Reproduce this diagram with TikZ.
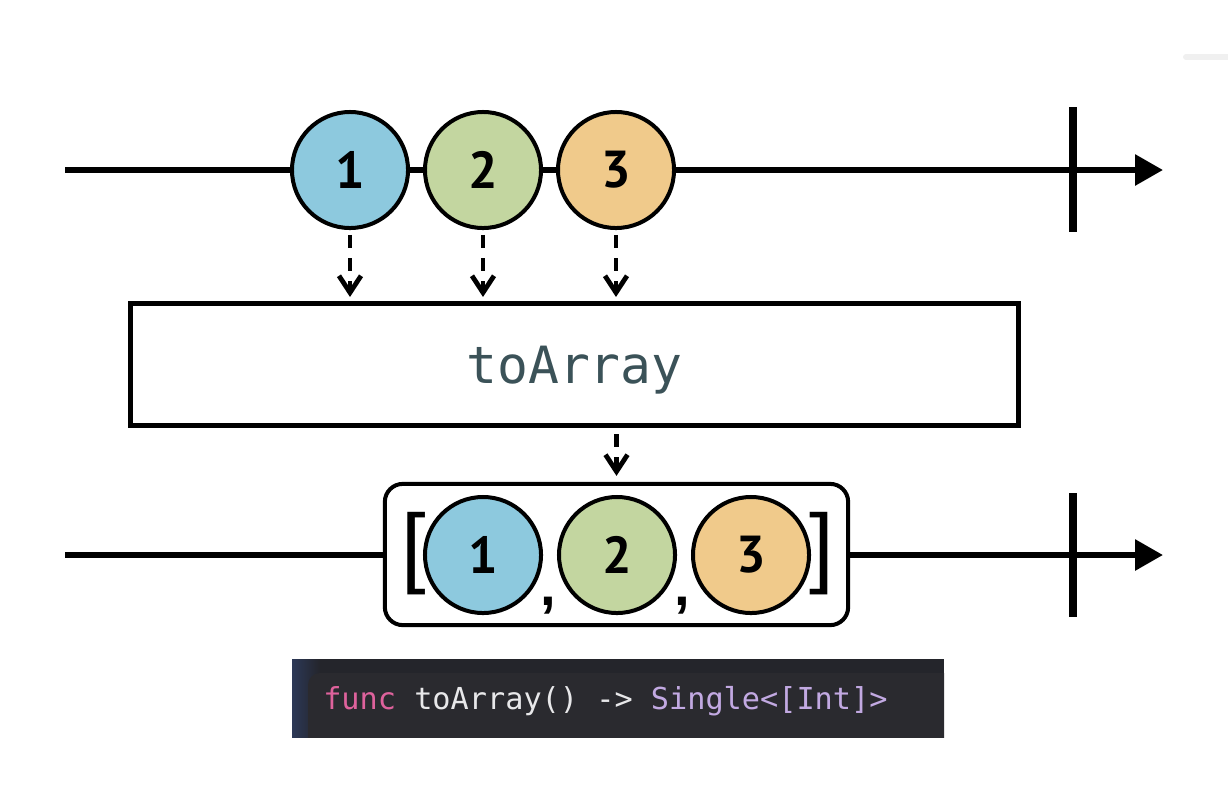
\documentclass[tikz,border=0pt]{standalone}
\usepackage{fontspec}
\newfontfamily\monofont{DejaVu Sans Mono}
\newfontfamily\digitfont{PT Sans}
\newfontfamily\bracketfont{Liberation Sans}
\usetikzlibrary{arrows.meta,positioning}
\definecolor{marbleblue}{HTML}{8DC9DE}
\definecolor{marblegreen}{HTML}{C3D6A0}
\definecolor{marbleorange}{HTML}{F0CA8B}
\definecolor{opcolor}{HTML}{3B5258}
\definecolor{codeedge}{HTML}{24252B}
\definecolor{codeblue}{HTML}{2C3857}
\definecolor{codepanel}{HTML}{2A2A2F}
\definecolor{kwpink}{HTML}{DE629C}
\definecolor{codewhite}{HTML}{E8E8EA}
\definecolor{typepurple}{HTML}{C2A9E2}
\begin{document}
\begin{tikzpicture}[
    x=0.025cm, y=-0.025cm,
    every node/.style={inner sep=0pt},
    timeline/.style={line width=0.15cm, -{Triangle[length=0.7cm,width=0.75cm]}},
    endtick/.style={line width=0.2cm},
    marble/.style={circle, draw, line width=0.1cm, minimum size=2.9cm,
      font=\digitfont\bfseries\fontsize{37}{37}\selectfont},
    feed/.style={dash pattern=on 0.33cm off 0.25cm, line width=0.12cm,
      -{Straight Barb[length=0.42cm,width=0.55cm]}},
    opbox/.style={draw, line width=0.125cm, fill=white,
      minimum width=22.2cm, minimum height=3.05cm,
      text height=1.25cm, text depth=0.31cm,
      text=opcolor, font=\monofont\fontsize{36.5}{36.5}\selectfont},
    resultbox/.style={draw, line width=0.1cm, fill=white, rounded corners=0.45cm,
      minimum width=11.58cm, minimum height=3.53cm},
    bracket/.style={font=\bracketfont\fontsize{63}{63}\selectfont},
    sep/.style={font=\bracketfont\bfseries\fontsize{40}{40}\selectfont},
  ]
    \useasboundingbox (0,0) rectangle (1228,784);
    %% faint mark at the top right corner
    \draw[black!6, line width=0.15cm, line cap=round] (1186,57) -- (1228,57);

    %% Source timeline
    \coordinate (srcstart) at (65,170);
    \coordinate (srcend) at (1163,170);
    \draw[timeline] (srcstart) -- (srcend);
    \draw[endtick] (1073,107) -- (1073,232);
    \foreach \i/\x/\col in {1/350/marbleblue,2/483/marblegreen,3/616/marbleorange}
      \node[marble, fill=\col] (src\i) at (\x,170) {\i};

    %% Operator box
    \node[opbox] (op) at (574.5,364.5) {toArray};
    \foreach \i in {1,2,3}
      \draw[feed, shorten <=0.12cm, shorten >=0.1cm] (src\i.south) -- (src\i.south |- op.north);

    %% Result timeline
    \coordinate (resstart) at (65,555);
    \coordinate (resend) at (1163,555);
    \draw[timeline] (resstart) -- (resend);
    \draw[endtick] (1073,493) -- (1073,617);
    \node[resultbox] (res) at (616.5,554.5) {};
    \draw[feed, shorten <=0.15cm, shorten >=0.15cm] (res.north |- op.south) -- (res.north);
    \foreach \i/\x/\col in {1/483/marbleblue,2/617/marblegreen,3/751/marbleorange}
      \node[marble, fill=\col] (arr\i) at (\x,555) {\i};
    \node[bracket] (lbr) at (414,553.5) {[};
    \node[bracket] (rbr) at (822,553.5) {]};
    \node[sep] (comma1) at (548,606) {,};
    \node[sep] (comma2) at (682,606) {,};

    %% Signature bar
    \fill[codeedge] (292,659) rectangle (944,737);
    \shade[left color=codeblue, right color=codeedge] (292,659) rectangle (320,737);
    \begin{scope}
      \clip (292,659) rectangle (944,737);
      \fill[codepanel, rounded corners=0.3cm] (308,673) rectangle (980,770);
    \end{scope}
    \node[anchor=base west, font=\monofont\fontsize{21.5}{21.5}\selectfont] (sig) at (323,709)
      {\textcolor{kwpink}{func} \textcolor{codewhite}{toArray() ->} \textcolor{typepurple}{Single<[Int]>}};
  \end{tikzpicture}
\end{document}
